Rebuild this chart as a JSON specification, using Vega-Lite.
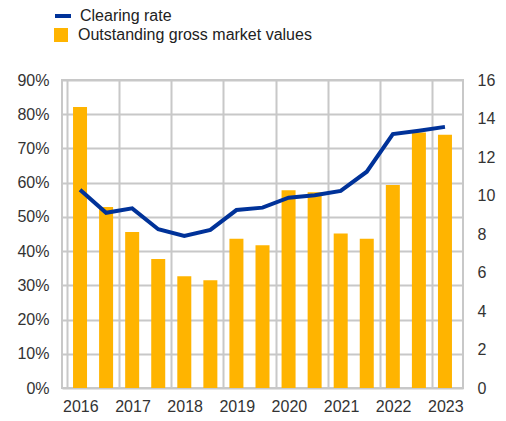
{
  "$schema": "https://vega.github.io/schema/vega-lite/v6.json",
  "width": 401,
  "height": 308,
  "autosize": {"type": "none"},
  "padding": {"left": 62, "top": 80, "right": 43, "bottom": 33},
  "background": "white",
  "config": {
    "font": "Liberation Sans",
    "view": {"stroke": "#c8c8c8", "strokeWidth": 2},
    "axis": {"labelFont": "Liberation Sans", "labelFontSize": 16, "labelColor": "#333333", "ticks": false, "domain": false, "gridColor": "#c8c8c8", "gridWidth": 2, "gridOpacity": 1},
    "legend": {"labelFont": "Liberation Sans", "labelFontSize": 16, "labelColor": "#222222", "padding": 0, "labelLimit": 400}
  },
  "data": {
    "values": [
      {"t": 2016.0, "rate": 0.579, "gmv": 14.6},
      {"t": 2016.5, "rate": 0.512, "gmv": 9.4},
      {"t": 2017.0, "rate": 0.525, "gmv": 8.1},
      {"t": 2017.5, "rate": 0.464, "gmv": 6.7},
      {"t": 2018.0, "rate": 0.444, "gmv": 5.8},
      {"t": 2018.5, "rate": 0.462, "gmv": 5.6},
      {"t": 2019.0, "rate": 0.520, "gmv": 7.75},
      {"t": 2019.5, "rate": 0.527, "gmv": 7.42},
      {"t": 2020.0, "rate": 0.556, "gmv": 10.27},
      {"t": 2020.5, "rate": 0.563, "gmv": 10.17},
      {"t": 2021.0, "rate": 0.576, "gmv": 8.02},
      {"t": 2021.5, "rate": 0.632, "gmv": 7.75},
      {"t": 2022.0, "rate": 0.742, "gmv": 10.55},
      {"t": 2022.5, "rate": 0.752, "gmv": 13.27},
      {"t": 2023.0, "rate": 0.763, "gmv": 13.15}
    ]
  },
  "layer": [
    {
      "mark": {"type": "bar", "width": 14},
      "encoding": {
        "x": {"field": "t", "type": "quantitative",
              "scale": {"domain": [2015.75, 2023.25], "nice": false, "zero": false},
              "axis": {"title": null, "grid": true, "labelAngle": 0, "labelPadding": 10, "orient": "bottom",
                       "values": [2015.75, 2016.25, 2016.75, 2017.25, 2017.75, 2018.25, 2018.75, 2019.25, 2019.75, 2020.25, 2020.75, 2021.25, 2021.75, 2022.25, 2022.75, 2023.25],
                       "labelOffset": 13.37, "labelFlush": false, "labelOverlap": false, "labelBound": false,
                       "labelExpr": "(datum.value + 0.25) % 1 == 0 ? format(datum.value + 0.25, 'd') : ''"}},
        "y": {"field": "gmv", "type": "quantitative", "scale": {"domain": [0, 16], "nice": false},
              "axis": {"title": null, "orient": "right", "grid": false, "values": [0, 2, 4, 6, 8, 10, 12, 14, 16], "labelPadding": 14}},
        "fill": {"datum": "Outstanding gross market values", "scale": {"range": ["#FFB400"]},
                 "legend": {"title": null, "orient": "none", "legendX": -9, "legendY": -53, "symbolType": "square", "symbolSize": 196, "labelOffset": 9, "symbolStrokeWidth": 0}}
      }
    },
    {
      "mark": {"type": "line", "strokeWidth": 4},
      "encoding": {
        "x": {"field": "t", "type": "quantitative"},
        "y": {"field": "rate", "type": "quantitative", "scale": {"domain": [0, 0.9], "nice": false},
              "axis": {"title": null, "orient": "left", "grid": true, "format": ".0%", "values": [0, 0.1, 0.2, 0.3, 0.4, 0.5, 0.6, 0.7, 0.8, 0.9], "labelPadding": 13}},
        "stroke": {"datum": "Clearing rate", "scale": {"range": ["#003299"]},
                   "legend": {"title": null, "orient": "none", "legendX": -9, "legendY": -74, "symbolType": "stroke", "symbolSize": 256, "symbolStrokeWidth": 4, "labelOffset": 7}}
      }
    }
  ],
  "resolve": {"scale": {"y": "independent"}}
}
